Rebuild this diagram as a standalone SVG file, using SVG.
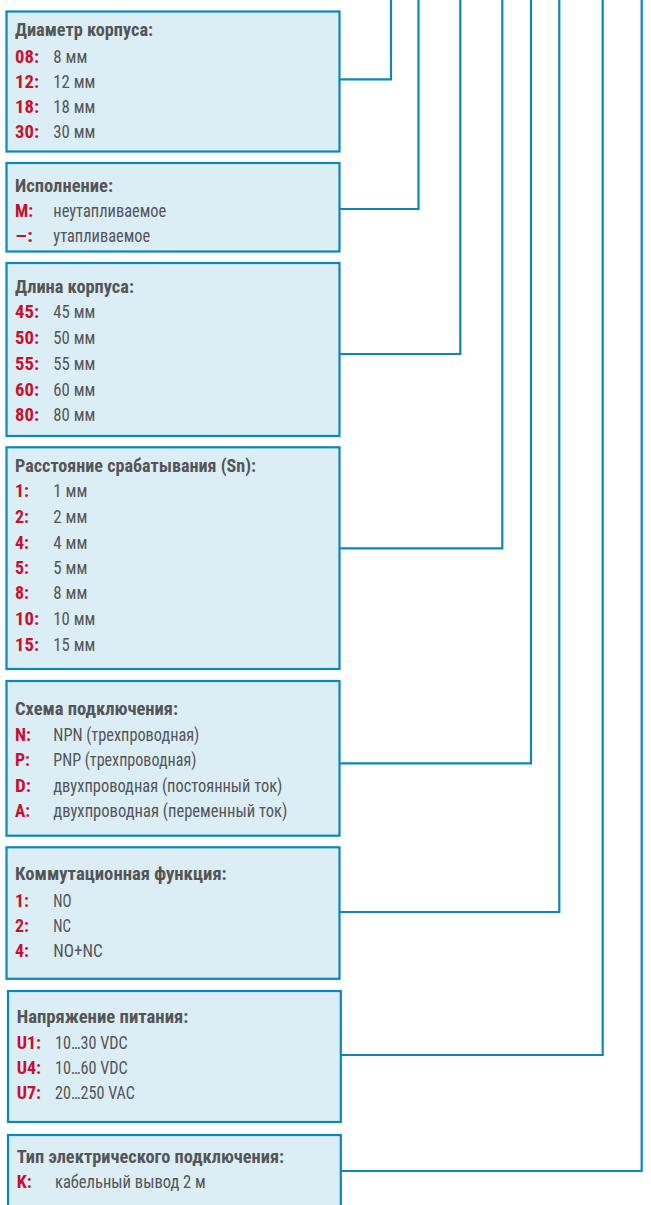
<svg xmlns="http://www.w3.org/2000/svg" width="651" height="1205" viewBox="0 0 651 1205">
<style>
.box{fill:#dbedf5;stroke:#0a87bb;stroke-width:2.2}
.con{fill:none;stroke:#0a87bb;stroke-width:2.2}
text{font-family:"Liberation Sans Narrow","Roboto Condensed","DejaVu Sans Condensed","Liberation Sans",sans-serif;font-size:18.5px}
.h{font-weight:bold;fill:#555555}
.k{font-weight:bold;fill:#c8102e}
.v{fill:#555555}
</style>
<rect width="651" height="1205" fill="#ffffff"/>
<g id="connectors">
<polyline class="con" points="340,79.3 391,79.3 391,-2"/>
<polyline class="con" points="340,209 418.5,209 418.5,-2"/>
<polyline class="con" points="340,354 460.3,354 460.3,-2"/>
<polyline class="con" points="340,548.3 502.3,548.3 502.3,-2"/>
<polyline class="con" points="340,763.3 531,763.3 531,-2"/>
<polyline class="con" points="340,912 559.3,912 559.3,-2"/>
<polyline class="con" points="341,1055 602.7,1055 602.7,-2"/>
<polyline class="con" points="341,1171 641.7,1171 641.7,-2"/>
</g>
<g id="node-diameter">
<rect class="box" x="6.5" y="11.5" width="333" height="140"/>
<text class="h" x="15" y="36" textLength="138" lengthAdjust="spacingAndGlyphs">Диаметр корпуса:</text>
<text class="k" x="15" y="62.7" textLength="24" lengthAdjust="spacingAndGlyphs">08:</text>
<text class="v" x="53.3" y="62.7" textLength="34" lengthAdjust="spacingAndGlyphs">8 мм</text>
<text class="k" x="15" y="87.5" textLength="24" lengthAdjust="spacingAndGlyphs">12:</text>
<text class="v" x="53.3" y="87.5" textLength="42" lengthAdjust="spacingAndGlyphs">12 мм</text>
<text class="k" x="15" y="113" textLength="24" lengthAdjust="spacingAndGlyphs">18:</text>
<text class="v" x="53.3" y="113" textLength="42" lengthAdjust="spacingAndGlyphs">18 мм</text>
<text class="k" x="15" y="138" textLength="24" lengthAdjust="spacingAndGlyphs">30:</text>
<text class="v" x="53.3" y="138" textLength="42" lengthAdjust="spacingAndGlyphs">30 мм</text>
</g>
<g id="node-execution">
<rect class="box" x="6.5" y="163" width="333" height="88.5"/>
<text class="h" x="15" y="191.7" textLength="98" lengthAdjust="spacingAndGlyphs">Исполнение:</text>
<text class="k" x="15" y="216.7" textLength="18" lengthAdjust="spacingAndGlyphs">M:</text>
<text class="v" x="53.3" y="216.7" textLength="113" lengthAdjust="spacingAndGlyphs">неутапливаемое</text>
<text class="k" x="15" y="241.7" textLength="18" lengthAdjust="spacingAndGlyphs">–:</text>
<text class="v" x="53.3" y="241.7" textLength="97" lengthAdjust="spacingAndGlyphs">утапливаемое</text>
</g>
<g id="node-length">
<rect class="box" x="6.5" y="263" width="333" height="173"/>
<text class="h" x="15" y="292.7" textLength="119" lengthAdjust="spacingAndGlyphs">Длина корпуса:</text>
<text class="k" x="15" y="318.3" textLength="24" lengthAdjust="spacingAndGlyphs">45:</text>
<text class="v" x="53.3" y="318.3" textLength="42" lengthAdjust="spacingAndGlyphs">45 мм</text>
<text class="k" x="15" y="344.3" textLength="24" lengthAdjust="spacingAndGlyphs">50:</text>
<text class="v" x="53.3" y="344.3" textLength="42" lengthAdjust="spacingAndGlyphs">50 мм</text>
<text class="k" x="15" y="370" textLength="24" lengthAdjust="spacingAndGlyphs">55:</text>
<text class="v" x="53.3" y="370" textLength="42" lengthAdjust="spacingAndGlyphs">55 мм</text>
<text class="k" x="15" y="395.7" textLength="24" lengthAdjust="spacingAndGlyphs">60:</text>
<text class="v" x="53.3" y="395.7" textLength="42" lengthAdjust="spacingAndGlyphs">60 мм</text>
<text class="k" x="15" y="420.7" textLength="24" lengthAdjust="spacingAndGlyphs">80:</text>
<text class="v" x="53.3" y="420.7" textLength="42" lengthAdjust="spacingAndGlyphs">80 мм</text>
</g>
<g id="node-distance">
<rect class="box" x="6.5" y="447.3" width="333" height="221.7"/>
<text class="h" x="15" y="471.7" textLength="241" lengthAdjust="spacingAndGlyphs">Расстояние срабатывания (Sn):</text>
<text class="k" x="15" y="497.3" textLength="14" lengthAdjust="spacingAndGlyphs">1:</text>
<text class="v" x="53.3" y="497.3" textLength="34" lengthAdjust="spacingAndGlyphs">1 мм</text>
<text class="k" x="15" y="523.3" textLength="14" lengthAdjust="spacingAndGlyphs">2:</text>
<text class="v" x="53.3" y="523.3" textLength="34" lengthAdjust="spacingAndGlyphs">2 мм</text>
<text class="k" x="15" y="548.7" textLength="14" lengthAdjust="spacingAndGlyphs">4:</text>
<text class="v" x="53.3" y="548.7" textLength="34" lengthAdjust="spacingAndGlyphs">4 мм</text>
<text class="k" x="15" y="574" textLength="14" lengthAdjust="spacingAndGlyphs">5:</text>
<text class="v" x="53.3" y="574" textLength="34" lengthAdjust="spacingAndGlyphs">5 мм</text>
<text class="k" x="15" y="599.3" textLength="14" lengthAdjust="spacingAndGlyphs">8:</text>
<text class="v" x="53.3" y="599.3" textLength="34" lengthAdjust="spacingAndGlyphs">8 мм</text>
<text class="k" x="15" y="625" textLength="24" lengthAdjust="spacingAndGlyphs">10:</text>
<text class="v" x="53.3" y="625" textLength="42" lengthAdjust="spacingAndGlyphs">10 мм</text>
<text class="k" x="15" y="650.7" textLength="24" lengthAdjust="spacingAndGlyphs">15:</text>
<text class="v" x="53.3" y="650.7" textLength="42" lengthAdjust="spacingAndGlyphs">15 мм</text>
</g>
<g id="node-wiring">
<rect class="box" x="6.5" y="681" width="333" height="154.7"/>
<text class="h" x="15" y="715" textLength="163" lengthAdjust="spacingAndGlyphs">Схема подключения:</text>
<text class="k" x="15" y="741" textLength="16" lengthAdjust="spacingAndGlyphs">N:</text>
<text class="v" x="53.3" y="741" textLength="146" lengthAdjust="spacingAndGlyphs">NPN (трехпроводная)</text>
<text class="k" x="15" y="765.7" textLength="15" lengthAdjust="spacingAndGlyphs">P:</text>
<text class="v" x="53.3" y="765.7" textLength="143" lengthAdjust="spacingAndGlyphs">PNP (трехпроводная)</text>
<text class="k" x="15" y="791.7" textLength="16" lengthAdjust="spacingAndGlyphs">D:</text>
<text class="v" x="53.3" y="791.7" textLength="229" lengthAdjust="spacingAndGlyphs">двухпроводная (постоянный ток)</text>
<text class="k" x="15" y="816.7" textLength="15" lengthAdjust="spacingAndGlyphs">A:</text>
<text class="v" x="53.3" y="816.7" textLength="234" lengthAdjust="spacingAndGlyphs">двухпроводная (переменный ток)</text>
</g>
<g id="node-function">
<rect class="box" x="6.5" y="847.3" width="333" height="131.5"/>
<text class="h" x="15" y="880" textLength="211.7" lengthAdjust="spacingAndGlyphs">Коммутационная функция:</text>
<text class="k" x="15" y="906.7" textLength="14" lengthAdjust="spacingAndGlyphs">1:</text>
<text class="v" x="53.3" y="906.7" textLength="18.3" lengthAdjust="spacingAndGlyphs">NO</text>
<text class="k" x="15" y="931.7" textLength="14" lengthAdjust="spacingAndGlyphs">2:</text>
<text class="v" x="53.3" y="931.7" textLength="17.7" lengthAdjust="spacingAndGlyphs">NC</text>
<text class="k" x="15" y="957.3" textLength="14" lengthAdjust="spacingAndGlyphs">4:</text>
<text class="v" x="53.3" y="957.3" textLength="49.3" lengthAdjust="spacingAndGlyphs">NO+NC</text>
</g>
<g id="node-voltage">
<rect class="box" x="8" y="991" width="332.8" height="131"/>
<text class="h" x="16.7" y="1023" textLength="171.7" lengthAdjust="spacingAndGlyphs">Напряжение питания:</text>
<text class="k" x="16.7" y="1049" textLength="24.3" lengthAdjust="spacingAndGlyphs">U1:</text>
<text class="v" x="55" y="1049" textLength="72.7" lengthAdjust="spacingAndGlyphs">10…30 VDC</text>
<text class="k" x="16.7" y="1073.7" textLength="24.3" lengthAdjust="spacingAndGlyphs">U4:</text>
<text class="v" x="55" y="1073.7" textLength="72.7" lengthAdjust="spacingAndGlyphs">10…60 VDC</text>
<text class="k" x="16.7" y="1099" textLength="24.3" lengthAdjust="spacingAndGlyphs">U7:</text>
<text class="v" x="55" y="1099" textLength="80" lengthAdjust="spacingAndGlyphs">20…250 VAC</text>
</g>
<g id="node-connection">
<rect class="box" x="8" y="1135" width="332.8" height="100"/>
<text class="h" x="16.7" y="1163" textLength="267.3" lengthAdjust="spacingAndGlyphs">Тип электрического подключения:</text>
<text class="k" x="16.7" y="1188" textLength="15" lengthAdjust="spacingAndGlyphs">K:</text>
<text class="v" x="55" y="1188" textLength="150.7" lengthAdjust="spacingAndGlyphs">кабельный вывод 2 м</text>
</g>
</svg>
